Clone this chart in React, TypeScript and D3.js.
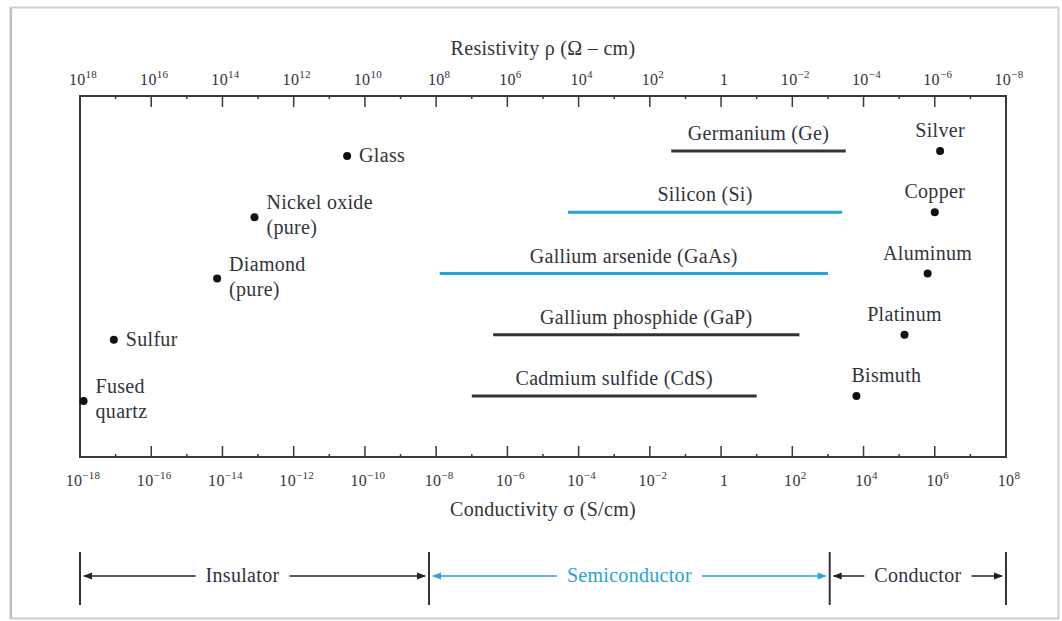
import React, { useEffect, useRef } from 'react';
import * as d3 from 'd3';

// exponents shown on the axes (conductivity, S/cm)
const sigmaExps = [-18, -16, -14, -12, -10, -8, -6, -4, -2, 0, 2, 4, 6, 8];
const minorExps = [-17, -15, -13, -11, -9, -7, -5, -3, -1, 1, 3, 5, 7];

// insulators (single points, log10 of sigma)
const insulatorNames = ['Glass', 'Nickel oxide|(pure)', 'Diamond|(pure)', 'Sulfur', 'Fused|quartz'];
const insulatorLogSigma = [-10.5, -13.1, -14.15, -17.05, -17.9];
const insulatorRows = [0, 1, 2, 3, 4];

// semiconductors (ranges, log10 of sigma)
const semiNames = ['Germanium (Ge)', 'Silicon (Si)', 'Gallium arsenide (GaAs)', 'Gallium phosphide (GaP)', 'Cadmium sulfide (CdS)'];
const semiLow = [-1.4, -4.3, -7.9, -6.4, -7.0];
const semiHigh = [3.5, 3.4, 3.0, 2.2, 1.0];
const semiBlue = [false, true, true, false, false];

// conductors (single points)
const conductorNames = ['Silver', 'Copper', 'Aluminum', 'Platinum', 'Bismuth'];
const conductorLogSigma = [6.15, 6.0, 5.8, 5.15, 3.8];

// material classes along the bottom
const classNames = ['Insulator', 'Semiconductor', 'Conductor'];
const classBounds = [-18, -8.2, 3.05, 8];

const BLUE = '#27a2dc';
const INK = '#2f343c';
const FONT = '"Liberation Serif", "DejaVu Serif", serif';
const FS = '20px';

const App = () => {
  const svgRef = useRef<SVGSVGElement>(null);

  useEffect(() => {
    const width = 1062;
    const height = 621;
    const svg = d3.select(svgRef.current);
    svg.selectAll('*').remove();
    svg.attr('width', width).attr('height', height).style('font-family', FONT);

    // page frame
    svg.append('rect')
      .attr('x', 10.5).attr('y', 7.5).attr('width', 1048).attr('height', 611)
      .attr('fill', 'white').attr('stroke', '#cfcfcf').attr('stroke-width', 2);
    svg.append('line').attr('x1', 11).attr('x2', 11).attr('y1', 8).attr('y2', 618)
      .attr('stroke', '#bdbdbd').attr('stroke-width', 2);

    const top = 96;
    const bottom = 457;
    const x = d3.scaleLinear().domain([-18, 8]).range([80, 1006]);
    const y = d3.scalePoint<number>().domain([0, 1, 2, 3, 4]).range([151, 396]);

    const g = svg.append('g').style('letter-spacing', '0.3px');

    // plot box
    g.append('rect')
      .attr('x', x(-18)).attr('y', top)
      .attr('width', x(8) - x(-18)).attr('height', bottom - top)
      .attr('fill', 'none').attr('stroke', '#3a3a3a').attr('stroke-width', 2);

    // ticks
    const addTicks = (exps: number[], len: number) => {
      exps.forEach(e => {
        g.append('line').attr('x1', x(e)).attr('x2', x(e)).attr('y1', top).attr('y2', top + len)
          .attr('stroke', '#3a3a3a').attr('stroke-width', 1.5);
        g.append('line').attr('x1', x(e)).attr('x2', x(e)).attr('y1', bottom).attr('y2', bottom - len)
          .attr('stroke', '#3a3a3a').attr('stroke-width', 1.5);
      });
    };
    addTicks(sigmaExps.slice(1, -1), 11);
    addTicks(minorExps, 3);

    // tick labels with superscripts
    const tickLabel = (sel: any, e: number, xx: number, yy: number) => {
      const t = sel.append('text')
        .attr('x', xx).attr('y', yy).attr('text-anchor', 'middle')
        .attr('fill', INK).style('font-size', '16px');
      if (e === 0) {
        t.text('1');
      } else {
        t.append('tspan').text('10');
        t.append('tspan').attr('dy', -7).style('font-size', '11px')
          .text(e < 0 ? '\u2212' + Math.abs(e) : String(e));
      }
      return t;
    };
    sigmaExps.forEach(e => {
      tickLabel(g, e, x(e) + 3, 486);
      tickLabel(g, -e, x(e) + 3, 85);
    });

    // axis titles
    g.append('text').attr('x', 543).attr('y', 55).attr('text-anchor', 'middle')
      .attr('fill', INK).style('font-size', FS).text('Resistivity \u03c1 (\u03a9 \u2013 cm)');
    g.append('text').attr('x', 543).attr('y', 516).attr('text-anchor', 'middle')
      .attr('fill', INK).style('font-size', FS).text('Conductivity \u03c3 (S/cm)');

    // insulators
    insulatorNames.forEach((name, i) => {
      const cx = x(insulatorLogSigma[i]);
      const cy = y(insulatorRows[i])! + 5;
      g.append('circle').attr('cx', cx).attr('cy', cy).attr('r', 4).attr('fill', '#111');
      const lines = name.split('|');
      const t = g.append('text').attr('fill', INK).style('font-size', FS);
      if (lines.length === 1) {
        t.attr('x', cx + 12).attr('y', cy + 6).text(lines[0]);
      } else {
        lines.forEach((l, k) => {
          t.append('tspan').attr('x', cx + 12).attr('y', cy - 8 + k * 25).text(l);
        });
      }
    });

    // semiconductor ranges
    semiNames.forEach((name, i) => {
      const x0 = x(semiLow[i]);
      const x1 = x(semiHigh[i]);
      const yy = y(i)!;
      g.append('line').attr('x1', x0).attr('x2', x1).attr('y1', yy).attr('y2', yy)
        .attr('stroke', semiBlue[i] ? BLUE : '#333').attr('stroke-width', 3);
      g.append('text').attr('x', (x0 + x1) / 2).attr('y', yy - 11)
        .attr('text-anchor', 'middle').attr('fill', INK).style('font-size', FS).text(name);
    });

    // conductors
    conductorNames.forEach((name, i) => {
      const cx = x(conductorLogSigma[i]);
      const cy = y(i)!;
      g.append('circle').attr('cx', cx).attr('cy', cy).attr('r', 4).attr('fill', '#111');
      const isLast = i === conductorNames.length - 1;
      g.append('text').attr('x', isLast ? cx - 5 : cx).attr('y', cy - 14)
        .attr('text-anchor', isLast ? 'start' : 'middle')
        .attr('fill', INK).style('font-size', FS).text(name);
    });

    // class bands along the bottom
    const by = 576;
    classBounds.forEach(b => {
      g.append('line').attr('x1', x(b)).attr('x2', x(b)).attr('y1', 552).attr('y2', 605)
        .attr('stroke', '#333').attr('stroke-width', 2);
    });
    const arrow = (xTip: number, dir: number, color: string) => {
      g.append('path')
        .attr('d', `M${xTip},${by} l${-dir * 9},-3.5 l0,7 Z`)
        .attr('fill', color);
    };
    classNames.forEach((name, i) => {
      const a = x(classBounds[i]);
      const b = x(classBounds[i + 1]);
      const color = i === 1 ? BLUE : '#222';
      const mid = (a + b) / 2 - (i === 0 ? 12 : 0);
      const t = g.append('text').attr('x', mid).attr('y', by + 6).attr('text-anchor', 'middle')
        .attr('fill', i === 1 ? BLUE : INK).style('font-size', FS).text(name);
      const w = (t.node() as SVGTextElement).getComputedTextLength();
      const gap = 10;
      g.append('line').attr('x1', a + 4).attr('x2', mid - w / 2 - gap).attr('y1', by).attr('y2', by)
        .attr('stroke', color).attr('stroke-width', 1.5);
      g.append('line').attr('x1', mid + w / 2 + gap).attr('x2', b - 4).attr('y1', by).attr('y2', by)
        .attr('stroke', color).attr('stroke-width', 1.5);
      arrow(a + 3, -1, color);
      arrow(b - 3, 1, color);
    });
  }, []);

  return (
    <div style={{ position: 'absolute', left: 0, top: 0, background: 'white' }}>
      <svg ref={svgRef}></svg>
    </div>
  );
};

export default App;
